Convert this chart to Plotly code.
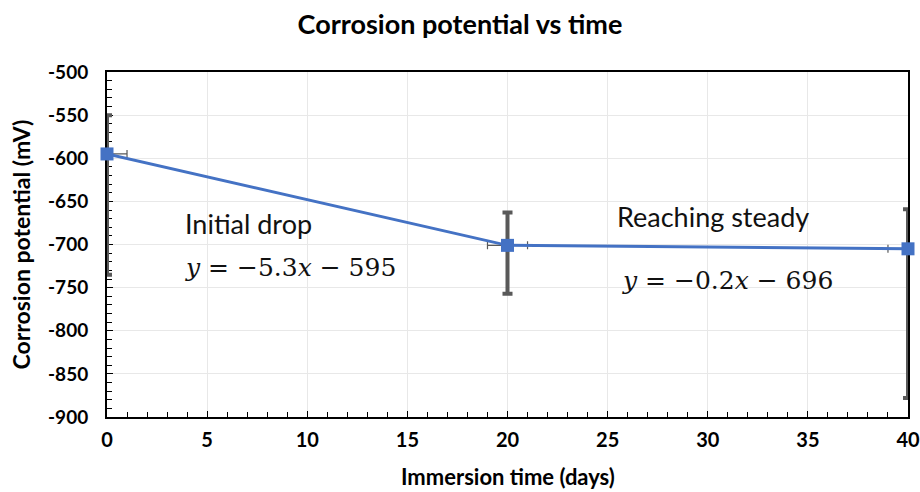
import plotly.graph_objects as go

# Measured corrosion potential over immersion time
days = [0, 20, 40]
potential_mv = [-595, -701, -705]
err_up = [45, 38, 46]
err_down = [140, 56, 173]
err_days = [1, 1, 1]

y_ticks = [-500, -550, -600, -650, -700, -750, -800, -850, -900]
y_tick_text = ["-500", "-550", "-600", "-650", "-700", "-750", "-800", "-850", "-900"]
x_ticks = [0, 5, 10, 15, 20, 25, 30, 35, 40]

SANS = "Lato, 'Open Sans', 'Liberation Sans', sans-serif"
SERIF = "'DejaVu Serif', 'Liberation Serif', serif"
BLUE = "#4472C4"
ERR = "#595959"

W, H = 920, 492
M_L, M_R, M_T, M_B = 107, 12, 72, 75

fig = go.Figure()
fig.add_trace(go.Scatter(
    x=days, y=potential_mv,
    mode="lines+markers",
    line=dict(color=BLUE, width=3),
    marker=dict(symbol="square", size=13, color=BLUE),
    error_y=dict(type="data", symmetric=False, array=err_up, arrayminus=err_down,
                 color=ERR, thickness=4, width=5),
    error_x=dict(type="data", array=err_days, color=ERR, thickness=1.2, width=4),
    cliponaxis=False,
    showlegend=False,
))

annotations = [
    dict(x=3.8, y=-676, text="Initial drop", font=dict(family=SANS, size=27, color="#111")),
    dict(x=3.8, y=-727, text="<i>y</i> = −5.3<i>x</i> − 595", font=dict(family=SERIF, size=25, color="#111")),
    dict(x=25.35, y=-668, text="Reaching steady", font=dict(family=SANS, size=27, color="#111")),
    dict(x=25.6, y=-742, text="<i>y</i> = −0.2<i>x</i> − 696", font=dict(family=SERIF, size=25, color="#111")),
]
for a in annotations:
    a.update(xref="x", yref="y", xanchor="left", yanchor="middle", showarrow=False)

# Axis titles placed in pixel terms relative to the plot area
plot_h = H - M_T - M_B
annotations += [
    dict(text="<b>Immersion time (days)</b>", xref="x domain", yref="paper",
         x=0.5, y=-(477 - (H - M_B)) / plot_h, xanchor="center", yanchor="middle",
         showarrow=False, font=dict(family=SANS, size=22, color="black")),
    dict(text="<b>Corrosion potential (mV)</b>", xref="paper", yref="y domain",
         x=-(M_L - 20) / (W - M_L - M_R), y=0.5, xanchor="center", yanchor="middle",
         textangle=-90, showarrow=False, font=dict(family=SANS, size=23, color="black")),
]

fig.update_layout(
    width=W, height=H,
    margin=dict(l=M_L, r=M_R, t=M_T, b=M_B),
    paper_bgcolor="white", plot_bgcolor="white",
    font=dict(family=SANS, color="black"),
    title=dict(text="<b>Corrosion potential vs time</b>", x=0.5, xref="container",
               xanchor="center", y=1 - 25 / H, yanchor="middle",
               font=dict(family=SANS, size=27, color="black")),
    annotations=annotations,
    xaxis=dict(
        range=[0, 40], tickvals=x_ticks, ticks="inside", ticklen=6, tickwidth=1,
        tickcolor="black", showline=True, linecolor="black", linewidth=2, mirror=True,
        showgrid=True, gridcolor="#E8E8E8", gridwidth=1, zeroline=False,
        minor=dict(dtick=1, ticks="inside", ticklen=5, tickcolor="black", showgrid=False),
        tickfont=dict(family=SANS, size=20, color="black", weight="bold"),
        ticklabelstandoff=4, layer="below traces", automargin=False,
    ),
    yaxis=dict(
        range=[-900, -500], tickvals=y_ticks, ticktext=y_tick_text, ticks="inside",
        ticklen=6, tickwidth=1, tickcolor="black", showline=True, linecolor="black",
        linewidth=2, mirror=True, showgrid=True, gridcolor="#E8E8E8", gridwidth=1,
        zeroline=False, ticklabelstandoff=13, layer="below traces", automargin=False,
        minor=dict(dtick=10, ticks="inside", ticklen=5, tickcolor="black", showgrid=False),
        tickfont=dict(family=SANS, size=19, color="black", weight="bold"),
    ),
)

fig.write_html("out.html")
